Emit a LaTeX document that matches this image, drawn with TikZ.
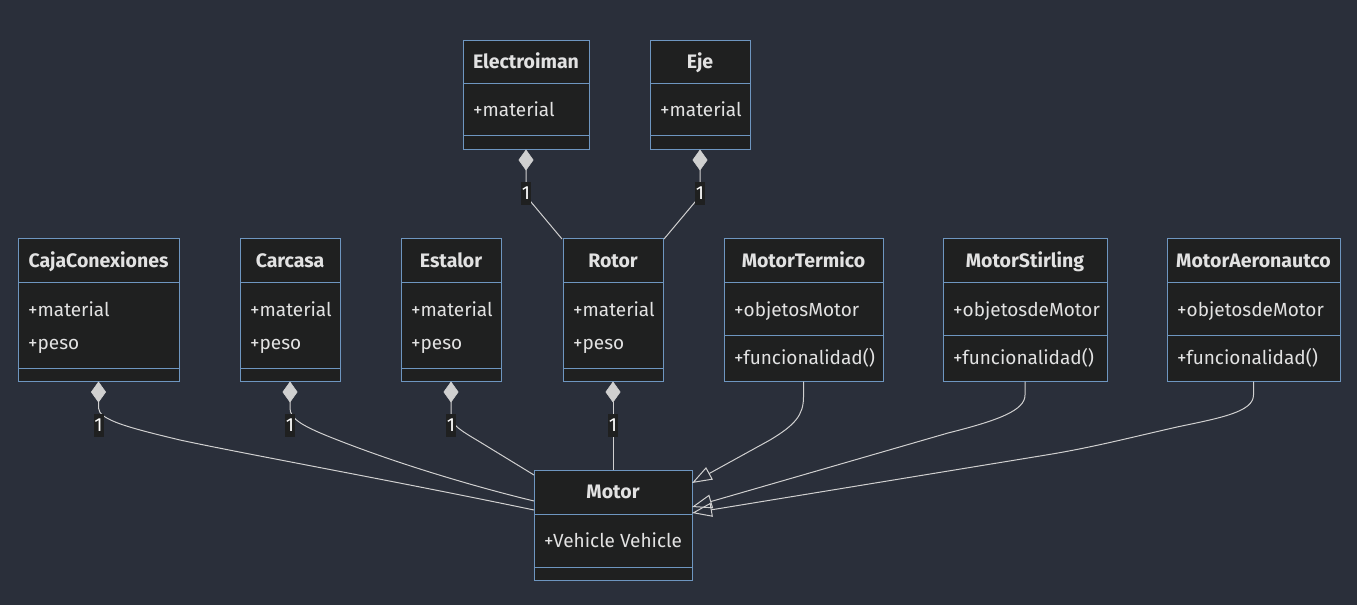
\documentclass[tikz,border=0pt]{standalone}
\usepackage{fontspec}
\setmainfont{Fira Sans}
\usetikzlibrary{arrows.meta}
\definecolor{bg}{HTML}{2A2F3A}
\definecolor{boxfill}{HTML}{1F2020}
\definecolor{boxline}{HTML}{6E96C0}
\definecolor{txt}{HTML}{E2E2E2}
\definecolor{edge}{HTML}{D0D0D0}
\tikzset{
  cls/.style={draw=boxline, fill=boxfill, line width=1pt, inner sep=0pt, rectangle},
  divider/.style={draw=boxline, line width=1pt},
  title/.style={text=txt, font=\fontsize{19.5}{22}\selectfont\bfseries, inner sep=0pt, anchor=base},
  attr/.style={text=txt, font=\fontsize{19}{22}\selectfont, inner sep=0pt, anchor=base west},
  mult/.style={text=white, fill=boxfill, font=\fontsize{19}{21}\selectfont, inner sep=0.5pt, minimum width=10pt, minimum height=23pt},
  comp/.style={draw=edge, line width=1pt, {Diamond[length=21pt,width=15pt,fill=edge,line width=0.6pt]}-},
  inh/.style={draw=edge, line width=1pt, -{Triangle[open,length=20pt,width=14pt,line width=1pt]}},
}
\newcommand{\umlcls}[7]{% name, x1, y1, x2, y2, div1, div2
  \node[cls, minimum width={#4-#2}, minimum height={#5-#3}] (#1) at ({(#2+#4)/2},{(#3+#5)/2}) {};
  \draw[divider] (#2,#6) -- (#4,#6);
  \draw[divider] (#2,#7) -- (#4,#7);
}
\begin{document}
\begin{tikzpicture}[x=1pt,y=-1pt]
\fill[bg] (0,0) rectangle (1357,605);
\useasboundingbox (0,0) rectangle (1357,605);

% classes
\umlcls{elec}{463}{40}{589}{149}{83}{135}
\node[title] (elecT) at (526,68.3) {Electroiman};
\node[attr] (elecA) at (473,116.7) {+material};

\umlcls{eje}{650}{40}{750}{149}{83}{135}
\node[title] (ejeT) at (700,68.3) {Eje};
\node[attr] (ejeA) at (660,116.7) {+material};

\umlcls{caja}{18}{238}{179}{381}{282}{368}
\node[title] (cajaT) at (98.5,267) {CajaConexiones};
\node[attr] (cajaA1) at (28,316) {+material};
\node[attr] (cajaA2) at (28,349.5) {+peso};

\umlcls{carc}{240}{238}{340}{381}{282}{368}
\node[title] (carcT) at (290,267) {Carcasa};
\node[attr] (carcA1) at (250,316) {+material};
\node[attr] (carcA2) at (250,349.5) {+peso};

\umlcls{esta}{401}{238}{501}{381}{282}{368}
\node[title] (estaT) at (451,267) {Estalor};
\node[attr] (estaA1) at (411,316) {+material};
\node[attr] (estaA2) at (411,349.5) {+peso};

\umlcls{rotor}{563}{238}{663}{381}{282}{368}
\node[title] (rotorT) at (613,267) {Rotor};
\node[attr] (rotorA1) at (573,316) {+material};
\node[attr] (rotorA2) at (573,349.5) {+peso};

\umlcls{term}{724}{238}{883}{381}{282}{335}
\node[title] (termT) at (803.5,267) {MotorTermico};
\node[attr] (termA) at (734,316) {+objetosMotor};
\node[attr] (termM) at (734,364) {+funcionalidad()};

\umlcls{stir}{943}{238}{1107}{381}{282}{335}
\node[title] (stirT) at (1025,267) {MotorStirling};
\node[attr] (stirA) at (953,316) {+objetosdeMotor};
\node[attr] (stirM) at (953,364) {+funcionalidad()};

\umlcls{aero}{1167}{238}{1340}{381}{282}{335}
\node[title] (aeroT) at (1253.5,267) {MotorAeronautco};
\node[attr] (aeroA) at (1177,316) {+objetosdeMotor};
\node[attr] (aeroM) at (1177,364) {+funcionalidad()};

\umlcls{motor}{534}{470}{692}{580}{514}{567}
\node[title] (motorT) at (613,498.3) {Motor};
\node[attr] (motorA) at (544,547.7) {+Vehicle Vehicle};

% end coordinates on Motor / Rotor
\coordinate (mCaja) at (534,510);
\coordinate (mCarc) at (534,501);
\coordinate (mEsta) at (534,475);
\coordinate (mTerm) at (692,483);
\coordinate (mStir) at (692,507);
\coordinate (mAero) at (692,513);
\coordinate (rElec) at (562,239);
\coordinate (rEje) at (664,239);

% composition edges
\draw[comp] (elec.south) -- (526,190) .. controls (526,196) and (528,198) .. (531,202) -- (rElec);
\draw[comp] (eje.south) -- (700,190) .. controls (700,196) and (698,198) .. (695,202) -- (rEje);
\draw[comp] (caja.south) -- (98.5,408) .. controls (98.5,420) and (130,428) .. (180,440) .. controls (240,453) and (400,482) .. (mCaja);
\draw[comp] (carc.south) -- (290,408) .. controls (290,418) and (300,425) .. (330,437) .. controls (400,465) and (480,488) .. (mCarc);
\draw[comp] (esta.south) -- (451,415) .. controls (451,425) and (460,430) .. (480,442) -- (mEsta);
\draw[comp] (rotor.south) -- (motor.north);

% multiplicity labels
\node[mult] (l1) at (526,193) {1};
\node[mult] (l2) at (700,193) {1};
\node[mult] (l3) at (98.5,425) {1};
\node[mult] (l4) at (290,425) {1};
\node[mult] (l5) at (451,425) {1};
\node[mult] (l6) at (613,425) {1};

% inheritance edges
\draw[inh] (term.south) -- (803.5,397) .. controls (803.5,415) and (795,425) .. (770,440) -- (mTerm);
\draw[inh] (stir.south) -- (1025,395) .. controls (1025,410) and (1000,420) .. (948,433) -- (mStir);
\draw[inh] (aero.south) -- (1253.5,395) .. controls (1253.5,412) and (1220,418) .. (1177,427) .. controls (1120,440) and (1090,448) .. (1040,456) -- (mAero);
\end{tikzpicture}
\end{document}
